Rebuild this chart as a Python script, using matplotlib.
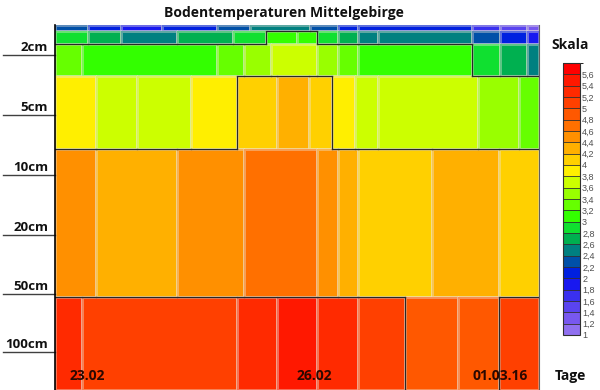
import numpy as np
import matplotlib
matplotlib.use('Agg')
import matplotlib.pyplot as plt
from matplotlib.colors import ListedColormap, BoundaryNorm

plt.rcParams['font.family'] = ['Open Sans', 'DejaVu Sans']

# Farbskala von 1 bis 5,8 in Schritten von 0,2 (unten -> oben)
skala_grenzen = np.linspace(1.0, 5.8, 25)
skala_farben = [
    '#9070f0', '#7858f0', '#5a44f0', '#3a30f0', '#1818f0', '#0020e0',
    '#0050a8', '#008080', '#00b050', '#10e030', '#33ff00', '#66ff00',
    '#99ff00', '#ccff00', '#ffef00', '#ffd000', '#ffb000', '#ff9000',
    '#ff7000', '#ff5800', '#ff4000', '#ff2a00', '#ff1800', '#ff0000',
]
skala_ticks = np.round(np.arange(1.0, 5.61, 0.2), 1)

# Schichten von oben nach unten (Grenzen in Zeichnungseinheiten)
schicht_grenzen = [0, 0.55, 1.9, 5.1, 12.35, 27.2, 36.5]

# Zeitachse 0..100, pro Schicht eigene Zellgrenzen und Temperaturen
x_kanten = [
    [0, 6.8, 13.6, 22.1, 33.5, 40.3, 52.7, 58.5, 62.6, 86.2, 91.9, 97.5, 100],
    [0, 6.8, 13.6, 25.2, 36.8, 43.6, 50.0, 54.1, 58.5, 62.6, 66.7, 86.2, 91.9, 97.5, 100],
    [0, 5.6, 33.5, 39.0, 44.6, 54.1, 58.5, 62.6, 86.2, 91.9, 97.5, 100],
    [0, 8.4, 16.9, 28.1, 37.6, 45.9, 52.5, 57.2, 62.0, 66.7, 87.4, 95.9, 100],
    [0, 8.4, 25.2, 39.0, 54.1, 58.5, 62.6, 77.9, 91.7, 100],
    [0, 5.6, 37.6, 45.9, 54.1, 62.6, 72.3, 83.3, 91.7, 100],
]
werte = [
    [2.3, 2.1, 1.9, 2.1, 2.3, 2.5, 2.3, 2.1, 2.1, 1.7, 1.5, 1.3],
    [2.9, 2.7, 2.5, 2.7, 2.9, 3.1, 3.1, 2.9, 2.7, 2.5, 2.5, 2.3, 2.1, 1.9],
    [3.3, 3.1, 3.3, 3.5, 3.7, 3.5, 3.3, 3.1, 2.9, 2.7, 2.5],
    [3.9, 3.7, 3.7, 3.9, 4.1, 4.3, 4.1, 3.9, 3.7, 3.7, 3.5, 3.3],
    [4.5, 4.3, 4.5, 4.7, 4.5, 4.3, 4.1, 4.3, 4.1],
    [5.3, 5.1, 5.3, 5.5, 5.3, 5.1, 4.9, 4.9, 5.1],
]
isolinien = [3.0, 4.0, 5.0]

tiefen = ['2cm', '5cm', '10cm', '20cm', '50cm', '100cm']
tiefen_pos = [3.0, 9.0, 15.0, 21.0, 26.9, 32.7]

tage = ['23.02', '26.02', '01.03.16']
tage_pos = [3.1, 50.0, 86.2]

cmap = ListedColormap(skala_farben)
norm = BoundaryNorm(skala_grenzen, cmap.N)

fig = plt.figure(figsize=(6, 3.9), dpi=100)
ax = fig.add_axes([55 / 600, 0, 484 / 600, 365 / 390])

for i in range(len(werte)):
    X = np.array(x_kanten[i])
    Y = np.array(schicht_grenzen[i:i + 2])
    C = np.array(werte[i]).reshape(1, -1)
    ax.pcolormesh(X, Y, C, cmap=cmap, norm=norm,
                  edgecolors=(0.92, 0.9, 0.85, 0.4), linewidth=0.8)


def wert_bei(i, x):
    k = np.searchsorted(x_kanten[i], x) - 1
    return werte[i][k]


# Isolinien als Treppenlinien entlang der Zellgrenzen
for s in isolinien:
    for i in range(len(werte)):
        y0, y1 = schicht_grenzen[i], schicht_grenzen[i + 1]
        for k in range(1, len(werte[i])):
            if (werte[i][k - 1] >= s) != (werte[i][k] >= s):
                xk = x_kanten[i][k]
                ax.plot([xk, xk], [y0, y1], color='#282828', lw=0.9)
    for i in range(len(werte) - 1):
        xs = sorted(set(x_kanten[i]) | set(x_kanten[i + 1]))
        for xa, xb in zip(xs[:-1], xs[1:]):
            xm = (xa + xb) / 2
            if (wert_bei(i, xm) >= s) != (wert_bei(i + 1, xm) >= s):
                yb = schicht_grenzen[i + 1]
                ax.plot([xa, xb], [yb, yb], color='#282828', lw=0.9)

ax.set_xlim(0, 100)
ax.set_ylim(schicht_grenzen[-1], 0)
ax.set_xticks([])
ax.set_yticks([])
for sp in ['top', 'bottom']:
    ax.spines[sp].set_visible(False)
ax.spines['left'].set_color('black')
ax.spines['left'].set_linewidth(1.2)
ax.spines['right'].set_color('#606060')
ax.spines['right'].set_linewidth(0.8)

# Tiefenbeschriftung links mit Strich
for name, y in zip(tiefen, tiefen_pos):
    ax.plot([-52 / 484, 0], [y, y], transform=ax.get_yaxis_transform(),
            color='#404040', lw=1, clip_on=False)
    ax.annotate(name, xy=(0, y), xycoords=('axes fraction', 'data'),
                xytext=(-5, 0.5), textcoords='offset points',
                ha='right', va='bottom', fontsize=9.5, fontweight='bold',
                color='#111111')

for name, x in zip(tage, tage_pos):
    ax.text(x, 35.1, name, ha='left', va='center', fontsize=10,
            fontweight='bold', color='#2b0800')

fig.text(284 / 600, 1 - 13 / 390, 'Bodentemperaturen Mittelgebirge',
         ha='center', va='center', fontsize=10, fontweight='bold',
         color='#111111')
fig.text(570 / 600, 1 - 45 / 390, 'Skala', ha='center', va='center',
         fontsize=10, fontweight='bold', color='#111111')
fig.text(570 / 600, 1 - 376 / 390, 'Tage', ha='center', va='center',
         fontsize=10, fontweight='bold', color='#111111')

# Legende
cax = fig.add_axes([563 / 600, 55 / 390, 17 / 600, 272 / 390])
cb = matplotlib.colorbar.ColorbarBase(cax, cmap=cmap, norm=norm,
                                      boundaries=skala_grenzen,
                                      ticks=skala_ticks, drawedges=True)
cb.outline.set_edgecolor('#303030')
cb.outline.set_linewidth(0.8)
cb.dividers.set_color('#303030')
cb.dividers.set_linewidth(0.6)
cax.set_yticklabels([('%g' % v).replace('.', ',') for v in skala_ticks])
cax.tick_params(length=0, pad=1.5, labelsize=6.5, labelcolor='#505050')
for lab in cax.get_yticklabels():
    lab.set_fontfamily(['Liberation Sans', 'DejaVu Sans'])

fig.savefig('out.png', dpi=100)
